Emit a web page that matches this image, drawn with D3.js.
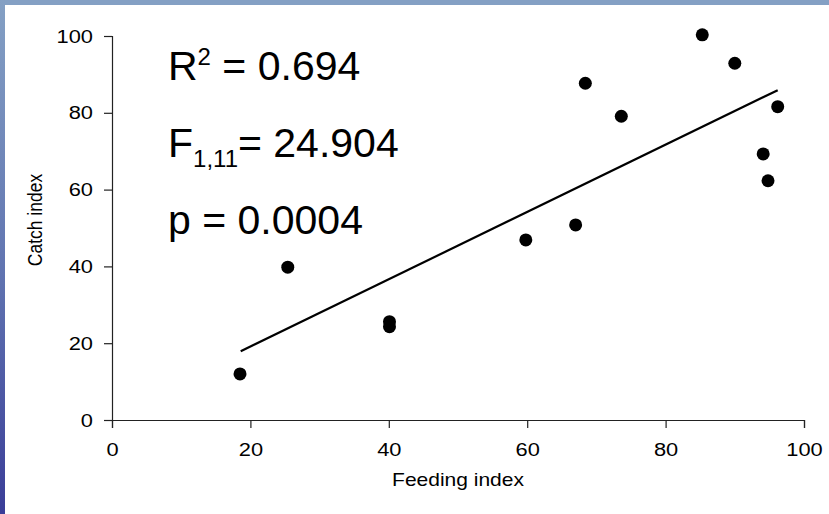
<!DOCTYPE html>
<html>
<head>
<meta charset="utf-8">
<script src="https://cdn.jsdelivr.net/npm/d3@7"></script>
<style>
  html, body { margin: 0; padding: 0; background: #fff; }
  svg { display: block; font-family: "Liberation Sans", Arial, sans-serif; }
</style>
</head>
<body>
<svg id="chart" width="829" height="514"></svg>
<script>
// Feeding index vs catch index, one point per observation
const feeding = [18.5, 25.4, 40.1, 40.1, 59.8, 67.0, 68.4, 73.6, 85.3, 90.0, 94.1, 94.8, 96.2];
const catchIdx = [12.0, 39.8, 25.6, 24.3, 46.9, 50.8, 87.7, 79.1, 100.3, 92.9, 69.3, 62.3, 81.6];

// Fitted regression line end points
const trendX = [18.6, 96.2];
const trendY = [17.9, 85.9];

const xTicks = [0, 20, 40, 60, 80, 100];
const yTicks = [0, 20, 40, 60, 80, 100];

const svg = d3.select("#chart");
const W = 829, H = 514;
const WIDE = 1.15; // chart lettering is set slightly wide

// Slide frame: blue bands along the top and left edges
const defs = svg.append("defs");
const grad = defs.append("linearGradient")
  .attr("id", "edge").attr("x1", 0).attr("y1", 0).attr("x2", 0).attr("y2", 1);
grad.append("stop").attr("offset", "0%").attr("stop-color", "#84a0c4");
grad.append("stop").attr("offset", "55%").attr("stop-color", "#5f72b0");
grad.append("stop").attr("offset", "100%").attr("stop-color", "#3a3d98");

svg.append("rect").attr("x", 0).attr("y", 0).attr("width", W).attr("height", H).attr("fill", "#fff");
svg.append("rect").attr("x", 0).attr("y", 0).attr("width", W).attr("height", 5).attr("fill", "#84a0c4");
svg.append("rect").attr("x", 0).attr("y", 0).attr("width", 5).attr("height", H).attr("fill", "url(#edge)");

const x = d3.scaleLinear().domain([0, 100]).range([112, 804]);
const y = d3.scaleLinear().domain([0, 100]).range([420, 36]);

// Axes
const xAxis = svg.append("g")
  .attr("transform", `translate(0,${y(0)})`)
  .call(d3.axisBottom(x).tickValues(xTicks).tickSize(8).tickPadding(15).tickFormat(d3.format("d")));
const yAxis = svg.append("g")
  .attr("transform", `translate(${x(0)},0)`)
  .call(d3.axisLeft(y).tickValues(yTicks).tickSize(8).tickPadding(11).tickFormat(d3.format("d")));

[xAxis, yAxis].forEach(g => {
  g.select(".domain").attr("stroke", "#222").attr("stroke-width", 1.2);
  g.selectAll(".tick line").attr("stroke", "#222").attr("stroke-width", 1.2);
  g.selectAll(".tick text")
    .attr("fill", "#000")
    .style("font-size", "19px")
    .style("font-family", "'Liberation Sans', Arial, sans-serif");
});

// Widen tick labels about their anchor points
xAxis.selectAll(".tick text").each(function () {
  const t = d3.select(this);
  const ty = +t.attr("y");
  t.attr("y", 0).attr("transform", `translate(0,${ty}) scale(${WIDE},1)`);
});
yAxis.selectAll(".tick text").each(function () {
  const t = d3.select(this);
  const tx = +t.attr("x");
  t.attr("x", 0).attr("transform", `translate(${tx},0) scale(${WIDE},1)`);
});

// Axis titles
svg.append("text")
  .attr("transform", `translate(${(x(0) + x(100)) / 2},486) scale(1.2,1)`)
  .attr("text-anchor", "middle")
  .style("font-size", "17.5px")
  .text("Feeding index");

svg.append("text")
  .attr("transform", `translate(42,220) scale(1.2,1) rotate(-90)`)
  .attr("text-anchor", "middle")
  .style("font-size", "17.5px")
  .text("Catch index");

// Regression line
const line = d3.line().x(d => x(d[0])).y(d => y(d[1]));
svg.append("path")
  .datum(d3.zip(trendX, trendY))
  .attr("d", line)
  .attr("fill", "none")
  .attr("stroke", "#000")
  .attr("stroke-width", 2.2);

// Points
svg.append("g").selectAll("circle")
  .data(d3.zip(feeding, catchIdx))
  .join("circle")
  .attr("cx", d => x(d[0]))
  .attr("cy", d => y(d[1]))
  .attr("r", 6.5)
  .attr("fill", "#000");

// Regression statistics
const stats = svg.append("g").style("font-size", "41px").attr("fill", "#000");

const r2 = stats.append("text").attr("x", 168).attr("y", 80);
r2.append("tspan").text("R");
r2.append("tspan").attr("dy", -15).style("font-size", "24px").text("2");
r2.append("tspan").attr("dy", 15).text(" = 0.694");

const f = stats.append("text").attr("x", 168).attr("y", 157);
f.append("tspan").text("F");
f.append("tspan").attr("dy", 10).style("font-size", "24px").text("1,11");
f.append("tspan").attr("dy", -10).text("= 24.904");

stats.append("text").attr("x", 168).attr("y", 234).text("p = 0.0004");
</script>
</body>
</html>
